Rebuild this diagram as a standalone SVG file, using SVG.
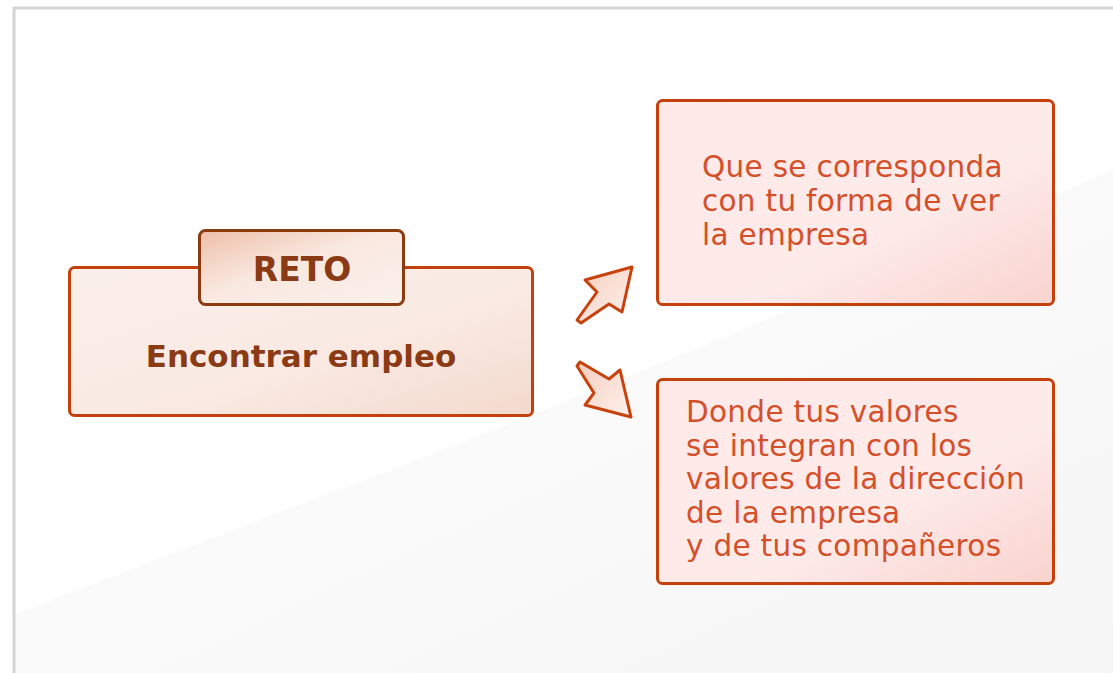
<svg xmlns="http://www.w3.org/2000/svg" width="1113" height="673" viewBox="0 0 1113 673">
<defs>
<linearGradient id="gMain" x1="0" y1="0" x2="1" y2="1">
<stop offset="0" stop-color="#fbefea"/><stop offset="0.6" stop-color="#f9e9e2"/><stop offset="1" stop-color="#f3d9cd"/>
</linearGradient>
<linearGradient id="gTab" x1="0" y1="0" x2="1" y2="1">
<stop offset="0" stop-color="#eebfa8"/><stop offset="0.45" stop-color="#f9e8e0"/><stop offset="1" stop-color="#fbf0eb"/>
</linearGradient>
<linearGradient id="gBox" x1="0" y1="0" x2="1" y2="1">
<stop offset="0" stop-color="#fde9e8"/><stop offset="0.6" stop-color="#fdebea"/><stop offset="1" stop-color="#f9d3ce"/>
</linearGradient>
<linearGradient id="gArrow" x1="0" y1="0" x2="1" y2="1">
<stop offset="0" stop-color="#f6cdbd"/><stop offset="1" stop-color="#fdf2ee"/>
</linearGradient>
<linearGradient id="gBg" x1="0" y1="0" x2="1" y2="1">
<stop offset="0" stop-color="#fdfdfd"/><stop offset="1" stop-color="#f6f6f6"/>
</linearGradient>
<style>
.box{stroke:#c4400c;stroke-width:3}
.tab{stroke:#8c3a10;stroke-width:3}
.arrow{fill:url(#gArrow);stroke:#c8420e;stroke-width:3;stroke-linejoin:round}
.lt{font-family:"DejaVu Sans",Verdana,sans-serif;font-weight:bold;fill:#8a3a14;text-anchor:middle}
.rt{font-family:"DejaVu Sans",Verdana,sans-serif;font-size:29.5px;fill:#d4502a;letter-spacing:0.3px}
</style>
</defs>
<rect x="0" y="0" width="1113" height="673" fill="#ffffff"/>
<path d="M15,615 C250,520 600,400 1113,170 L1113,673 L15,673 Z" fill="url(#gBg)"/>
<rect x="14" y="8" width="1200" height="800" fill="none" stroke="#d4d4d4" stroke-width="3"/>
<g id="reto">
<rect class="box" x="69.5" y="267.5" width="463" height="148" rx="5" fill="url(#gMain)"/>
<rect class="tab" x="199.5" y="230.5" width="204" height="74" rx="6" fill="url(#gTab)"/>
<text class="lt" x="302" y="281" font-size="33">RETO</text>
<text class="lt" x="301" y="367" font-size="31">Encontrar empleo</text>
</g>
<g id="connectors">
<path class="arrow" d="M632,267 L585,280 L597,292 L577,320 L581,323 L609,304 L622,312 Z"/>
<path class="arrow" d="M631,417 L620,370 L609,379 L580,362 L577,366 L594,393 L585,405 Z"/>
</g>
<g id="box1">
<rect class="box" x="657.5" y="100.5" width="396" height="204" rx="5" fill="url(#gBox)"/>
<text class="rt" x="702" y="177">Que se corresponda</text>
<text class="rt" x="702" y="211">con tu forma de ver</text>
<text class="rt" x="702" y="245">la empresa</text>
</g>
<g id="box2">
<rect class="box" x="657.5" y="379.5" width="396" height="204" rx="5" fill="url(#gBox)"/>
<text class="rt" x="686" y="422">Donde tus valores</text>
<text class="rt" x="686" y="456">se integran con los</text>
<text class="rt" x="686" y="489">valores de la dirección</text>
<text class="rt" x="686" y="523">de la empresa</text>
<text class="rt" x="686" y="556">y de tus compañeros</text>
</g>
</svg>
